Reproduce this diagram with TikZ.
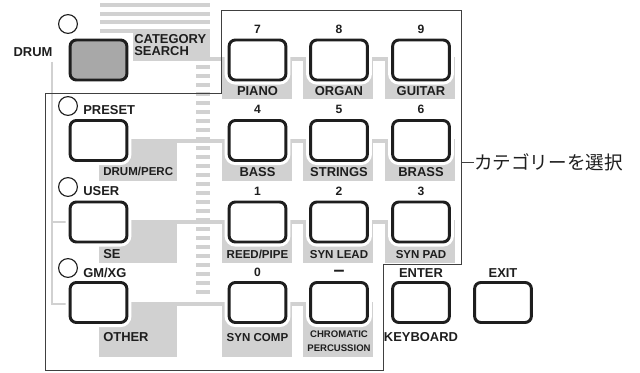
\documentclass[tikz,border=0pt]{standalone}
\usepackage{fontspec}
\setmainfont{Liberation Sans}
\newfontfamily\jpfont{Noto Sans CJK JP}
\usetikzlibrary{positioning}
\definecolor{PanelGray}{RGB}{209,209,209}
\definecolor{KeyGray}{RGB}{168,168,168}
\definecolor{InkDark}{RGB}{30,30,30}

\begin{document}
\begin{tikzpicture}[x=0.025cm,y=-0.025cm,
        key/.style={draw=InkDark,fill=white,line width=2.1pt,rounded corners=4.5pt,
                    minimum width=1.42cm,minimum height=1.0cm,inner sep=0pt,
                    preaction={draw=white,line width=6.4pt}},
        led/.style={circle,draw=InkDark,line width=0.8pt,minimum size=0.47cm,inner sep=0pt},
        num/.style={text=InkDark,font=\fontsize{8.6}{10}\selectfont\bfseries,
                    inner sep=0pt,text height=6.2pt,text depth=0pt},
        lbl/.style={text=InkDark,font=\fontsize{9.2}{11}\selectfont\bfseries,
                    inner sep=0pt,text height=6.6pt,text depth=0pt},
        lbln/.style={text=InkDark,font=\fontsize{8.2}{10}\selectfont\bfseries,
                    inner sep=0pt,text height=5.9pt,text depth=0pt},
        lbls/.style={text=InkDark,font=\fontsize{6.8}{8}\selectfont\bfseries,
                    inner sep=0pt,text height=4.9pt,text depth=0pt},
        band/.style={fill=PanelGray},
        rule/.style={draw=PanelGray,line width=1.4pt},
        frame/.style={draw=InkDark!85,line width=0.7pt}
      ]
        \useasboundingbox (0,0) rectangle (640,373);
        \foreach \y in {3,12,20,29} \fill[band] (100,\y) rectangle (210,\y+4);
        \foreach \y in {65,74,...,290} \fill[band] (196,\y) rectangle (210,\y+4);
        \fill[band] (133,29) rectangle (210,61);
        \fill[band] (210,57) rectangle (455,61);
        \fill[band] (177,139) rectangle (455,143);
        \fill[band] (177,220) rectangle (455,224);
        \fill[band] (177,302) rectangle (373,306);
        \foreach \x in {222,303,385} {
          \fill[band] (\x,57) rectangle (\x+70,99);
          \fill[band] (\x,139) rectangle (\x+70,181);
          \fill[band] (\x,220) rectangle (\x+70,263);
        }
        \fill[band] (222,302) rectangle (292,357);
        \fill[band] (303,302) rectangle (373,357);
        \fill[band] (99,139) rectangle (177,181);
        \fill[band] (99,220) rectangle (177,263);
        \fill[band] (99,302) rectangle (177,357);
        \draw[rule] (52,62) -- (52,304) -- (70,304);
        \draw[rule] (52,222) -- (70,222);
        \draw[frame] (221,10) -- (461,10) -- (461,264) -- (383,264) -- (383,370)
          -- (45,370) -- (45,93) -- (221,93) -- cycle;

        \node[key,fill=KeyGray] (drum) at (98.5,60) {};
        \node[key] (preset) at (98.5,140.5) {};
        \node[key] (user) at (98.5,222) {};
        \node[key] (gmxg) at (98.5,302.5) {};
        \node[key] (k7) at (257.5,60) {};
        \node[key] (k8) at (339,60) {};
        \node[key] (k9) at (421,60) {};
        \node[key] (k4) at (257.5,140.5) {};
        \node[key] (k5) at (339,140.5) {};
        \node[key] (k6) at (421,140.5) {};
        \node[key] (k1) at (257.5,222) {};
        \node[key] (k2) at (339,222) {};
        \node[key] (k3) at (421,222) {};
        \node[key] (k0) at (257.5,302.5) {};
        \node[key] (kdash) at (339,302.5) {};
        \node[key] (enter) at (421,302.5) {};
        \node[key] (exit) at (503,302.5) {};

        \node[led] (ledDrum) at (68,24) {};
        \node[led] (ledPreset) at (68,106) {};
        \node[led] (ledUser) at (68,187) {};
        \node[led] (ledGm) at (68,268) {};

        \node[lbl] (tDrum) at (33,52) {DRUM};
        \node[lbl,anchor=west] (tCat) at (134,39) {CATEGORY};
        \node[lbl,anchor=west] (tSearch) at (134,51) {SEARCH};
        \node[lbl,anchor=west] (tPreset) at (83,110) {PRESET};
        \node[lbl,anchor=west] (tUser) at (83,191) {USER};
        \node[lbl,anchor=west] (tGm) at (83,273) {GM/XG};
        \node[lbln,anchor=west] (tDrumPerc) at (103,171) {DRUM/PERC};
        \node[lbl,anchor=west] (tSe) at (103,254) {SE};
        \node[lbl,anchor=west] (tOther) at (103,337) {OTHER};

        \node[num] (n7) at (257.5,29) {7};
        \node[num] (n8) at (339,29) {8};
        \node[num] (n9) at (421,29) {9};
        \node[num] (n4) at (257.5,109.5) {4};
        \node[num] (n5) at (339,109.5) {5};
        \node[num] (n6) at (421,109.5) {6};
        \node[num] (n1) at (257.5,191) {1};
        \node[num] (n2) at (339,191) {2};
        \node[num] (n3) at (421,191) {3};
        \node[num] (n0) at (257.5,272) {0};
        \node[text=InkDark,font=\fontsize{14}{14}\selectfont\bfseries,inner sep=0pt] (nDash) at (339,273) {--};

        \node[lbl] (tPiano) at (257.5,91) {PIANO};
        \node[lbl] (tOrgan) at (339,91) {ORGAN};
        \node[lbl] (tGuitar) at (421,91) {GUITAR};
        \node[lbl] (tBass) at (257.5,171.5) {BASS};
        \node[lbl] (tStrings) at (339,171.5) {STRINGS};
        \node[lbl] (tBrass) at (421,171.5) {BRASS};
        \node[lbln] (tReed) at (257.5,254) {REED/PIPE};
        \node[lbln] (tLead) at (339,254) {SYN LEAD};
        \node[lbln] (tPad) at (421,254) {SYN PAD};
        \node[lbln] (tComp) at (257.5,337) {SYN COMP};
        \node[lbls] (tChrom) at (339,334) {CHROMATIC};
        \node[lbls] (tPerc) at (339,348) {PERCUSSION};
        \node[lbl] (tEnter) at (421,273) {ENTER};
        \node[lbl] (tExit) at (503,273) {EXIT};
        \node[lbl] (tKbd) at (421,337) {KEYBOARD};

        \node[anchor=west,text=InkDark,font=\jpfont\fontsize{13.2}{15}\selectfont,inner sep=0pt] (sel) at (474,162) {カテゴリーを選択};
        \coordinate (brk) at (461,162);
        \draw[frame] (brk) -- (sel.west);
      \end{tikzpicture}
\end{document}
